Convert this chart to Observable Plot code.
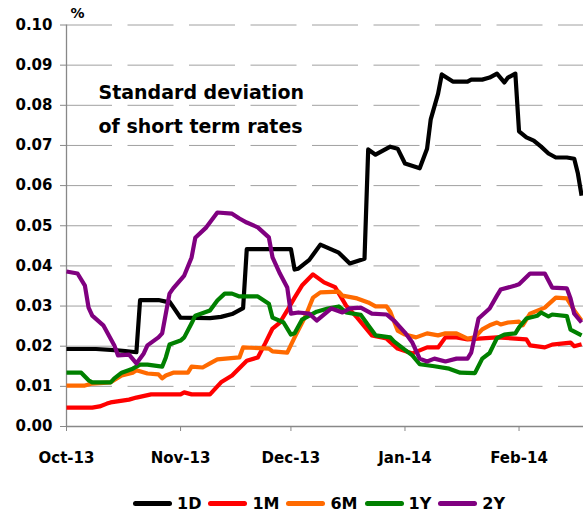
<!DOCTYPE html>
<html><head><meta charset="utf-8">
<script src="https://cdn.jsdelivr.net/npm/d3@7"></script>
<script src="https://cdn.jsdelivr.net/npm/@observablehq/plot@0.6"></script>
<style>
body{margin:0;background:#fff;}
#chart svg{display:block;}
.legend{display:flex;align-items:center;height:27px;padding-left:133px;font:bold 16px "DejaVu Sans";color:#000;}
.item{display:flex;align-items:center;margin-right:7px;}
.sw{width:39px;height:5px;border-radius:3px;margin-right:5px;}
</style></head><body><div id="chart"></div><div class="legend" id="legend"></div>
<script>
const seriesNames = ["1D","1M","6M","1Y","2Y"];
const seriesColors = ["#000000","#ff0000","#ff6a00","#008000","#800080"];
const yTicks = [0,0.01,0.02,0.03,0.04,0.05,0.06,0.07,0.08,0.09,0.10];
const monthTicks = ["2013-10-01","2013-11-01","2013-12-01","2014-01-01","2014-02-01"];
const monthLabels = ["Oct-13","Nov-13","Dec-13","Jan-14","Feb-14"];
const titleText = "Standard deviation\nof short term rates";
const unitText = "%";

const s1D = [["2013-10-01",0.0193],["2013-10-09",0.0193],["2013-10-14",0.0190],["2013-10-17",0.0188],["2013-10-20",0.0185],["2013-10-21",0.0315],["2013-10-26",0.0315],["2013-10-28",0.0311],["2013-10-29",0.0311],["2013-11-01",0.0271],["2013-11-09",0.0270],["2013-11-12",0.0273],["2013-11-15",0.0280],["2013-11-17",0.0290],["2013-11-18",0.0295],["2013-11-19",0.0442],["2013-12-01",0.0442],["2013-12-02",0.0391],["2013-12-03",0.0393],["2013-12-06",0.0415],["2013-12-09",0.0453],["2013-12-14",0.0433],["2013-12-17",0.0406],["2013-12-21",0.0418],["2013-12-22",0.0690],["2013-12-24",0.0677],["2013-12-28",0.0697],["2013-12-30",0.0692],["2014-01-01",0.0655],["2014-01-05",0.0643],["2014-01-07",0.0692],["2014-01-08",0.0765],["2014-01-10",0.0829],["2014-01-11",0.0877],["2014-01-14",0.0859],["2014-01-18",0.0859],["2014-01-19",0.0864],["2014-01-22",0.0864],["2014-01-24",0.0869],["2014-01-26",0.0879],["2014-01-28",0.0857],["2014-01-29",0.0869],["2014-01-31",0.0879],["2014-02-01",0.0735],["2014-02-03",0.0720],["2014-02-05",0.0712],["2014-02-07",0.0697],["2014-02-09",0.0680],["2014-02-11",0.0670],["2014-02-14",0.0670],["2014-02-16",0.0667],["2014-02-17",0.0630],["2014-02-18",0.0575]];
const s1M = [["2013-10-01",0.0047],["2013-10-08",0.0047],["2013-10-10",0.0050],["2013-10-12",0.0057],["2013-10-13",0.0060],["2013-10-18",0.0067],["2013-10-20",0.0072],["2013-10-24",0.0080],["2013-11-01",0.0080],["2013-11-02",0.0085],["2013-11-04",0.0080],["2013-11-09",0.0080],["2013-11-12",0.0110],["2013-11-15",0.0127],["2013-11-19",0.0164],["2013-11-22",0.0172],["2013-11-24",0.0207],["2013-11-26",0.0244],["2013-11-28",0.0259],["2013-11-30",0.0289],["2013-12-02",0.0321],["2013-12-04",0.0351],["2013-12-07",0.0379],["2013-12-10",0.0359],["2013-12-13",0.0347],["2013-12-16",0.0301],["2013-12-19",0.0271],["2013-12-23",0.0227],["2013-12-27",0.0219],["2013-12-30",0.0194],["2014-01-03",0.0182],["2014-01-07",0.0197],["2014-01-10",0.0197],["2014-01-12",0.0222],["2014-01-15",0.0222],["2014-01-18",0.0217],["2014-01-26",0.0222],["2014-01-31",0.0219],["2014-02-03",0.0217],["2014-02-04",0.0202],["2014-02-08",0.0197],["2014-02-10",0.0204],["2014-02-15",0.0209],["2014-02-16",0.0200],["2014-02-18",0.0205]];
const s6M = [["2013-10-01",0.0102],["2013-10-06",0.0102],["2013-10-08",0.0107],["2013-10-13",0.0110],["2013-10-16",0.0127],["2013-10-19",0.0134],["2013-10-20",0.0140],["2013-10-23",0.0132],["2013-10-26",0.0130],["2013-10-27",0.0120],["2013-10-28",0.0127],["2013-10-30",0.0134],["2013-11-03",0.0134],["2013-11-04",0.0149],["2013-11-07",0.0147],["2013-11-09",0.0157],["2013-11-11",0.0167],["2013-11-17",0.0172],["2013-11-18",0.0197],["2013-11-25",0.0194],["2013-11-26",0.0187],["2013-11-30",0.0184],["2013-12-02",0.0222],["2013-12-05",0.0276],["2013-12-07",0.0321],["2013-12-09",0.0334],["2013-12-14",0.0336],["2013-12-15",0.0326],["2013-12-19",0.0319],["2013-12-22",0.0309],["2013-12-24",0.0299],["2013-12-27",0.0299],["2013-12-28",0.0286],["2013-12-30",0.0239],["2014-01-01",0.0229],["2014-01-04",0.0222],["2014-01-07",0.0232],["2014-01-10",0.0227],["2014-01-12",0.0232],["2014-01-15",0.0232],["2014-01-18",0.0219],["2014-01-20",0.0222],["2014-01-22",0.0242],["2014-01-24",0.0252],["2014-01-26",0.0259],["2014-01-27",0.0254],["2014-01-29",0.0259],["2014-02-01",0.0261],["2014-02-02",0.0252],["2014-02-04",0.0281],["2014-02-08",0.0296],["2014-02-11",0.0321],["2014-02-14",0.0319],["2014-02-16",0.0289],["2014-02-18",0.0264]];
const s1Y = [["2013-10-01",0.0134],["2013-10-05",0.0134],["2013-10-07",0.0115],["2013-10-08",0.0110],["2013-10-13",0.0110],["2013-10-14",0.0120],["2013-10-16",0.0134],["2013-10-19",0.0144],["2013-10-21",0.0154],["2013-10-23",0.0154],["2013-10-27",0.0149],["2013-10-28",0.0172],["2013-10-29",0.0204],["2013-11-01",0.0214],["2013-11-02",0.0222],["2013-11-04",0.0257],["2013-11-05",0.0276],["2013-11-09",0.0289],["2013-11-11",0.0314],["2013-11-13",0.0331],["2013-11-15",0.0331],["2013-11-17",0.0324],["2013-11-22",0.0324],["2013-11-25",0.0306],["2013-11-26",0.0271],["2013-11-29",0.0259],["2013-12-01",0.0229],["2013-12-02",0.0232],["2013-12-04",0.0266],["2013-12-06",0.0276],["2013-12-08",0.0286],["2013-12-11",0.0294],["2013-12-14",0.0299],["2013-12-16",0.0284],["2013-12-20",0.0278],["2013-12-22",0.0252],["2013-12-24",0.0227],["2013-12-28",0.0222],["2013-12-29",0.0212],["2014-01-01",0.0191],["2014-01-03",0.0177],["2014-01-05",0.0155],["2014-01-09",0.0150],["2014-01-13",0.0144],["2014-01-16",0.0134],["2014-01-20",0.0133],["2014-01-22",0.0169],["2014-01-24",0.0183],["2014-01-26",0.0220],["2014-01-28",0.0229],["2014-01-31",0.0232],["2014-02-01",0.0247],["2014-02-03",0.0269],["2014-02-06",0.0276],["2014-02-07",0.0284],["2014-02-09",0.0274],["2014-02-10",0.0279],["2014-02-14",0.0275],["2014-02-15",0.0241],["2014-02-18",0.0227]];
const s2Y = [["2013-10-01",0.0386],["2013-10-04",0.0381],["2013-10-06",0.0351],["2013-10-07",0.0296],["2013-10-08",0.0276],["2013-10-11",0.0252],["2013-10-14",0.0202],["2013-10-15",0.0177],["2013-10-18",0.0179],["2013-10-20",0.0157],["2013-10-22",0.0182],["2013-10-23",0.0202],["2013-10-26",0.0222],["2013-10-27",0.0232],["2013-10-29",0.0331],["2013-10-30",0.0344],["2013-11-02",0.0376],["2013-11-04",0.0421],["2013-11-05",0.0470],["2013-11-08",0.0496],["2013-11-11",0.0533],["2013-11-15",0.0530],["2013-11-17",0.0518],["2013-11-19",0.0508],["2013-11-22",0.0496],["2013-11-25",0.0471],["2013-11-26",0.0421],["2013-11-28",0.0381],["2013-11-30",0.0346],["2013-12-01",0.0281],["2013-12-03",0.0284],["2013-12-06",0.0281],["2013-12-08",0.0264],["2013-12-12",0.0294],["2013-12-15",0.0284],["2013-12-17",0.0294],["2013-12-20",0.0296],["2013-12-23",0.0281],["2013-12-27",0.0279],["2013-12-29",0.0264],["2014-01-01",0.0234],["2014-01-03",0.0209],["2014-01-05",0.0169],["2014-01-07",0.0162],["2014-01-09",0.0169],["2014-01-12",0.0162],["2014-01-15",0.0169],["2014-01-18",0.0169],["2014-01-19",0.0184],["2014-01-21",0.0269],["2014-01-24",0.0294],["2014-01-26",0.0326],["2014-01-27",0.0341],["2014-01-31",0.0351],["2014-02-01",0.0354],["2014-02-04",0.0381],["2014-02-08",0.0381],["2014-02-10",0.0346],["2014-02-14",0.0344],["2014-02-15",0.0319],["2014-02-16",0.0281],["2014-02-18",0.0259]];

const seriesData = [s1D, s1M, s6M, s1Y, s2Y];
const rows = seriesData.flatMap((arr, i) => arr.map(([d, v]) => ({series: seriesNames[i], date: new Date(d + "T00:00:00Z"), value: v})));
const xStart = new Date("2013-10-01T00:00:00Z");
const xEnd = new Date("2014-02-18T12:30:00Z");
const tickDates = monthTicks.map(d => new Date(d + "T00:00:00Z"));

const chart = Plot.plot({
  width: 583, height: 490,
  marginLeft: 66, marginRight: 0, marginTop: 24.5, marginBottom: 64,
  style: {fontFamily: "DejaVu Sans", fontSize: "15px", fontWeight: "bold", color: "#000", background: "#fff", overflow: "visible"},
  x: {type: "utc", domain: [xStart, xEnd]},
  y: {domain: [0, 0.1]},
  color: {domain: seriesNames, range: seriesColors},
  marks: [
    Plot.gridY({ticks: yTicks.slice(1), stroke: "#a0a0a0", strokeOpacity: 1, strokeDasharray: "46,15.5"}),
    Plot.ruleY([0], {stroke: "#888", strokeWidth: 1.3}),
    Plot.ruleX([xStart], {stroke: "#888", strokeWidth: 1.3}),
    Plot.axisY({ticks: yTicks, tickFormat: d3.format(".2f"), tickSize: 6, tickPadding: 8, stroke: "#888", label: null}),
    Plot.axisX({ticks: tickDates, tickFormat: (d, i) => monthLabels[i], tickSize: 5, tickPadding: 21, stroke: "#888", label: null}),
    Plot.line(rows, {x: "date", y: "value", stroke: "series", z: "series", strokeWidth: 4.2, strokeLinejoin: "round", strokeLinecap: "butt"}),
    Plot.text([titleText], {text: d => d, frameAnchor: "top-left", textAnchor: "start", lineAnchor: "top", dx: 32, dy: 51, fontSize: 19, fontWeight: "bold", fontFamily: "DejaVu Sans", lineHeight: 1.74, fill: "#000"}),
    Plot.text([unitText], {text: d => d, frameAnchor: "top-left", textAnchor: "start", lineAnchor: "top", dx: 4, dy: -16.5, fontSize: 14, fontWeight: "bold", fontFamily: "DejaVu Sans", fill: "#000"})
  ]
});
document.getElementById("chart").appendChild(chart);

const legend = document.getElementById("legend");
seriesNames.forEach((name, i) => {
  const item = document.createElement("div");
  item.className = "item";
  const sw = document.createElement("span");
  sw.className = "sw";
  sw.style.background = seriesColors[i];
  const lab = document.createElement("span");
  lab.textContent = name;
  item.appendChild(sw); item.appendChild(lab);
  legend.appendChild(item);
});
</script></body></html>
